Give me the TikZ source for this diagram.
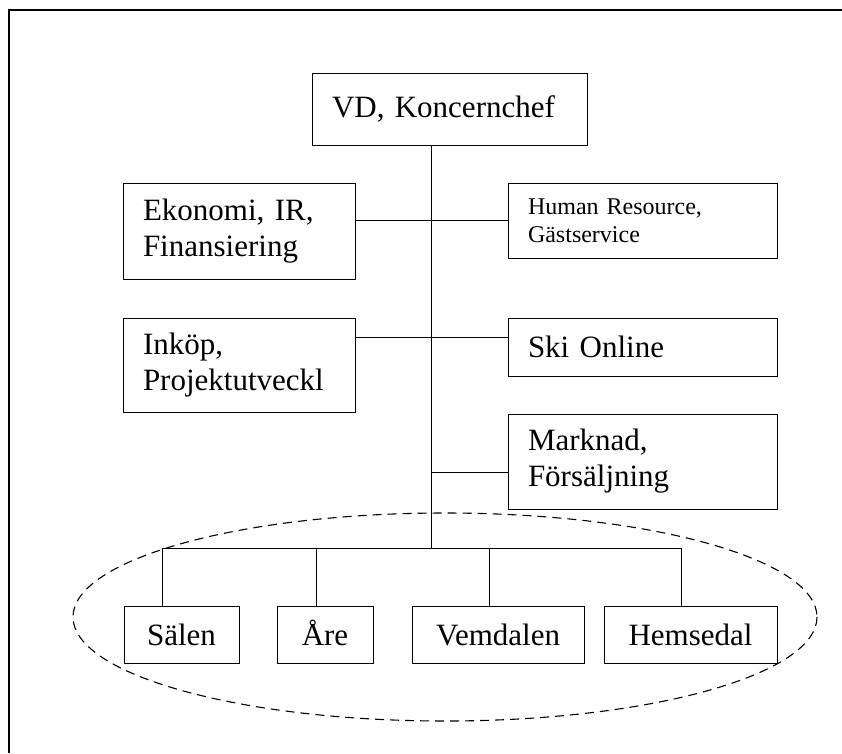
\documentclass[tikz,border=0pt]{standalone}
\usepackage{fontspec}
\setmainfont{Liberation Serif}
\begin{document}
\begin{tikzpicture}[x=1pt,y=-1pt,line width=1pt,
  orgbox/.style={draw, fill=white, inner xsep=20pt, inner ysep=0pt, align=left, font=\fontsize{31}{36}\selectfont},
  unitbox/.style={orgbox, inner xsep=8pt, align=center, minimum height=57pt, text height=27pt, text depth=6pt}]
  \useasboundingbox (0,0) rectangle (842,753);
  \draw[line width=1.2pt] (9,753) -- (9,10) -- (842,10);

  \draw[line width=1.1pt, dash pattern=on 9pt off 6pt] (445,617) ellipse [x radius=372, y radius=104];

  \node[orgbox, text width=235pt, minimum height=72pt] (vd) at (449.5,109) {VD, Koncernchef};
  \node[orgbox, text width=192pt, minimum height=96pt] (eko) at (239,231) {Ekonomi, IR,\\Finansiering};
  \node[orgbox, text width=229pt, minimum height=75pt, font=\fontsize{24}{28}\selectfont] (hr) at (642.5,220.5) {Human Resource,\\Gästservice};
  \node[orgbox, text width=192pt, minimum height=94pt] (ink) at (239,365) {Inköp,\\Projektutveckl};
  \node[orgbox, text width=229pt, minimum height=58pt] (ski) at (642.5,347) {Ski Online};
  \node[orgbox, text width=229pt, minimum height=95pt] (mkn) at (642.5,461.5) {Marknad,\\Försäljning};

  \node[unitbox, text width=99pt] (saelen) at (181.5,634.5) {Sälen};
  \node[unitbox, text width=80pt] (are) at (325,634.5) {Åre};
  \node[unitbox, text width=156pt] (vem) at (498,634.5) {Vemdalen};
  \node[unitbox, text width=157pt] (hem) at (690.5,634.5) {Hemsedal};

  \coordinate (bus) at (431,548);
  \coordinate (skiline) at (431,337);
  \coordinate (mknline) at (431,472);
  \draw (vd.south -| bus) -- (bus);
  \draw (eko.east |- hr.west) -- (hr.west);
  \draw (ink.east |- skiline) -- (ski.west |- skiline);
  \draw (mknline) -- (mkn.west |- mknline);
  \draw ([xshift=-19.5pt]saelen.north |- bus) -- ([xshift=-9.5pt]hem.north |- bus);
  \foreach \u/\dx in {saelen/-19.5, are/-9, vem/-9, hem/-9.5}
    \draw ([xshift=\dx pt]\u.north) -- ([xshift=\dx pt]\u.north |- bus);
\end{tikzpicture}
\end{document}
